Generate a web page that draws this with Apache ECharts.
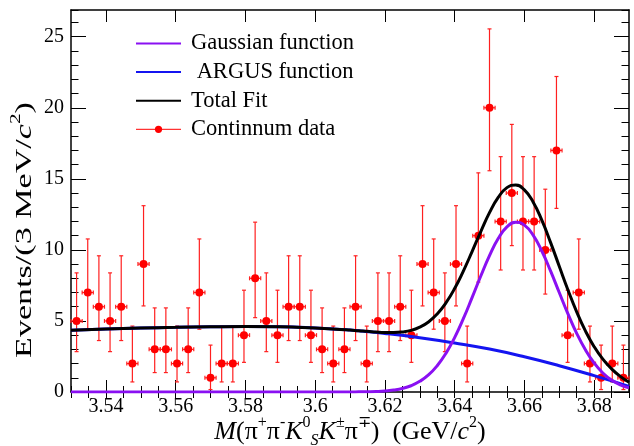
<!DOCTYPE html>
<html><head><meta charset="utf-8">
<script src="https://cdn.jsdelivr.net/npm/echarts@6/dist/echarts.min.js"></script>
<style>html,body{margin:0;padding:0;background:#fff}#c{width:634px;height:446px}</style>
</head><body><div id="c"></div>
<script>
// ---------- data ----------
const binCenters = [3.5316,3.5348,3.5380,3.5412,3.5444,3.5476,3.5508,3.5540,3.5572,3.5604,
  3.5636,3.5668,3.5700,3.5732,3.5764,3.5796,3.5828,3.5860,3.5892,3.5924,
  3.5956,3.5988,3.6020,3.6052,3.6084,3.6116,3.6148,3.6180,3.6212,3.6244,
  3.6276,3.6308,3.6340,3.6372,3.6404,3.6436,3.6468,3.6500,3.6532,3.6564,
  3.6596,3.6628,3.6660,3.6692,3.6724,3.6756,3.6788,3.6820,3.6852,3.6884];
const counts = [5,7,6,5,6,2,9,3,3,2, 3,7,1,2,2,4,8,5,4,6, 6,4,3,2,3,6,2,5,5,6,
  4,9,7,5,9,2,11,20,12,14, 12,12,10,17,4,7,2,1,2,1];
const halfBin = 0.0016;
// Poisson (68.3%) interval bounds indexed by count
const poissonLo = [0,0.173,0.708,1.367,2.086,2.840,3.620,4.419,5.232,6.057,6.891,7.734,8.585,9.441,10.30,11.17,12.04,12.92,13.80,14.68,15.57];
const poissonHi = [1.841,3.300,4.638,5.918,7.163,8.382,9.584,10.77,11.95,13.11,14.27,15.42,16.56,17.70,18.83,19.96,21.08,22.20,23.32,24.44,25.55];

const argusX = [3.53,3.54,3.55,3.56,3.57,3.58,3.59,3.60,3.61,3.62,3.63,3.64,3.65,3.66,3.67,3.68,3.69];
const argusY = [4.34,4.43,4.50,4.55,4.59,4.61,4.59,4.50,4.36,4.12,3.82,3.45,3.02,2.48,1.85,1.15,0.40];

const gaussX = [3.53,3.60,3.605,3.61,3.6125,3.615,3.6175,3.62,3.6225,3.625,3.6275,3.63,3.6325,3.635,3.6375,3.64,3.6425,3.645,3.6475,3.65,3.6525,3.655,3.6575,3.66,3.6625,3.665,3.6675,3.67,3.6725,3.675,3.6775,3.68,3.6825,3.685,3.6875,3.69];
const gaussY = [0,0,0,0,0.01,0.02,0.035,0.07,0.14,0.25,0.44,0.75,1.20,1.85,2.72,3.83,5.16,6.64,8.16,9.60,10.80,11.62,11.95,11.74,11.04,9.92,8.52,7.00,5.50,4.13,2.97,2.04,1.34,0.84,0.50,0.29];

const totalX = [3.53,3.54,3.55,3.56,3.57,3.58,3.59,3.60,3.605,3.61,3.6125,3.615,3.6175,3.62,3.6225,3.625,3.6275,3.63,3.6325,3.635,3.6375,3.64,3.6425,3.645,3.6475,3.65,3.6525,3.655,3.6575,3.66,3.6625,3.665,3.6675,3.67,3.6725,3.675,3.6775,3.68,3.6825,3.685,3.6875,3.69];
const totalY = [4.34,4.43,4.50,4.55,4.59,4.61,4.59,4.50,4.44,4.36,4.31,4.27,4.22,4.19,4.19,4.23,4.34,4.57,4.93,5.49,6.27,7.28,8.51,9.88,11.29,12.62,13.69,14.38,14.57,14.22,13.37,12.09,10.53,8.85,7.18,5.64,4.30,3.19,2.31,1.63,1.10,0.69];

const xTickLabels = [3.54,3.56,3.58,3.60,3.62,3.64,3.66,3.68];
const yTickLabels = [0,5,10,15,20,25];

// ---------- chart ----------
const F = "'Liberation Serif','Times New Roman',serif";
const chart = echarts.init(document.getElementById('c'), null, {renderer:'canvas'});
const zip = (xs, ys) => xs.map((x, i) => [x, ys[i]]);
const gridRect = {left:71, top:10, right:5, bottom:54};
const noSplit = {show:false};
const frameLine = {show:true, onZero:false, lineStyle:{color:'#000', width:1.5}};
const tickStyle = {color:'#000', width:1};

const errData = binCenters.map((x, i) => [x, counts[i], poissonLo[counts[i]], poissonHi[counts[i]]]);

function makeRich(size, supSize, lh) {
  return {
    n:{fontSize:size, fontFamily:F, lineHeight:lh, color:'#000', fill:'#000'},
    i:{fontSize:size, fontFamily:F, fontStyle:'italic', lineHeight:lh, color:'#000', fill:'#000'},
    sup:{fontSize:supSize, fontFamily:F, lineHeight:supSize, verticalAlign:'top', color:'#000', fill:'#000'},
    subi:{fontSize:supSize, fontFamily:F, fontStyle:'italic', lineHeight:supSize, verticalAlign:'bottom', color:'#000', fill:'#000'}
  };
}

const option = {
  animation:false,
  backgroundColor:'#fff',
  grid:[Object.assign({}, gridRect), Object.assign({}, gridRect)],
  xAxis:[
    {gridIndex:0, type:'value', position:'bottom', min:3.53, max:3.69, interval:0.01,
     axisLine:frameLine, splitLine:noSplit,
     axisTick:{show:true, inside:true, length:12, customValues:xTickLabels, lineStyle:tickStyle},
     axisLabel:{show:true, customValues:xTickLabels, fontSize:20, fontFamily:F, color:'#000', margin:5,
       formatter:v => String(parseFloat(Number(v).toFixed(2)))}},
    {gridIndex:0, type:'value', position:'top', min:3.53, max:3.69, interval:0.01,
     axisLine:frameLine, splitLine:noSplit,
     axisTick:{show:true, inside:true, length:12, customValues:xTickLabels, lineStyle:tickStyle},
     axisLabel:{show:false}},
    {gridIndex:1, type:'value', position:'bottom', min:3.53, max:3.69, interval:0.005,
     axisLine:{show:false}, splitLine:noSplit,
     axisTick:{show:true, inside:true, length:6, lineStyle:tickStyle}, axisLabel:{show:false}},
    {gridIndex:1, type:'value', position:'top', min:3.53, max:3.69, interval:0.005,
     axisLine:{show:false}, splitLine:noSplit,
     axisTick:{show:true, inside:true, length:6, lineStyle:tickStyle}, axisLabel:{show:false}}
  ],
  yAxis:[
    {gridIndex:0, type:'value', position:'left', min:0, max:26.88, interval:5,
     axisLine:frameLine, splitLine:noSplit,
     axisTick:{show:true, inside:true, length:15, customValues:yTickLabels, lineStyle:tickStyle},
     axisLabel:{show:true, customValues:yTickLabels, fontSize:20, fontFamily:F, color:'#000', margin:7}},
    {gridIndex:0, type:'value', position:'right', min:0, max:26.88, interval:5,
     axisLine:frameLine, splitLine:noSplit,
     axisTick:{show:true, inside:true, length:15, customValues:yTickLabels, lineStyle:tickStyle},
     axisLabel:{show:false}},
    {gridIndex:1, type:'value', position:'left', min:0, max:26.88, interval:1,
     axisLine:{show:false}, splitLine:noSplit,
     axisTick:{show:true, inside:true, length:7.5, lineStyle:tickStyle}, axisLabel:{show:false}},
    {gridIndex:1, type:'value', position:'right', min:0, max:26.88, interval:1,
     axisLine:{show:false}, splitLine:noSplit,
     axisTick:{show:true, inside:true, length:7.5, lineStyle:tickStyle}, axisLabel:{show:false}}
  ],
  legend:{
    orient:'vertical', left:135, top:32, padding:0, itemWidth:45, itemHeight:9, itemGap:5.6,
    textStyle:{fontFamily:F, fontSize:22.5, color:'#000', lineHeight:22, padding:[0,0,0,5]},
    data:[
      {name:'Gaussian function', itemStyle:{opacity:0}},
      {name:' ARGUS function', itemStyle:{opacity:0}},
      {name:'Total Fit', itemStyle:{opacity:0}},
      {name:'Continnum data', lineStyle:{color:'#ff0000', width:1, opacity:1}, itemStyle:{color:'#ff0000', opacity:1}}
    ],
    selectedMode:false
  },
  series:[
    {type:'custom', name:'errors', xAxisIndex:0, yAxisIndex:0, z:1, silent:true,
     data:errData,
     renderItem:(params, api) => {
       const x = api.value(0), y = api.value(1), lo = api.value(2), hi = api.value(3);
       const pLo = api.coord([x, lo]), pHi = api.coord([x, hi]);
       const pL = api.coord([x - halfBin, y]), pR = api.coord([x + halfBin, y]);
       const st = {stroke:'#ff2020', lineWidth:1.2, fill:null};
       const c = 2;
       return {type:'group', children:[
         {type:'line', shape:{x1:pLo[0], y1:pLo[1], x2:pHi[0], y2:pHi[1]}, style:st},
         {type:'line', shape:{x1:pLo[0]-c, y1:pLo[1], x2:pLo[0]+c, y2:pLo[1]}, style:st},
         {type:'line', shape:{x1:pHi[0]-c, y1:pHi[1], x2:pHi[0]+c, y2:pHi[1]}, style:st},
         {type:'line', shape:{x1:pL[0], y1:pL[1], x2:pR[0], y2:pR[1]}, style:st},
         {type:'line', shape:{x1:pL[0], y1:pL[1]-c, x2:pL[0], y2:pL[1]+c}, style:st},
         {type:'line', shape:{x1:pR[0], y1:pR[1]-c, x2:pR[0], y2:pR[1]+c}, style:st}
       ]};
     }},
    {type:'line', name:'Continnum data', xAxisIndex:0, yAxisIndex:0, z:2,
     data:zip(binCenters, counts), symbol:'circle', symbolSize:8, showSymbol:true,
     itemStyle:{color:'#ff0000'}, lineStyle:{opacity:0, color:'#ff0000'}},
    {type:'line', name:' ARGUS function', xAxisIndex:0, yAxisIndex:0, z:3,
     data:zip(argusX, argusY), symbol:'none', showSymbol:false, smooth:true,
     itemStyle:{color:'#1414f0'}, lineStyle:{color:'#1414f0', width:3}},
    {type:'line', name:'Gaussian function', xAxisIndex:0, yAxisIndex:0, z:4,
     data:zip(gaussX, gaussY), symbol:'none', showSymbol:false, smooth:true,
     itemStyle:{color:'#8a10f2'}, lineStyle:{color:'#8a10f2', width:3}},
    {type:'line', name:'Total Fit', xAxisIndex:0, yAxisIndex:0, z:5,
     data:zip(totalX, totalY), symbol:'none', showSymbol:false, smooth:true,
     itemStyle:{color:'#000'}, lineStyle:{color:'#000', width:3}}
  ],
  graphic:[
    {type:'text', x:350, y:432, z:10,
     style:{text:'{i|M}{n|(π}{sup|+}{n|π}{sup|-}{i|K}{sup|0}{subi|S}{i|K}{sup|±}{n|π}{sup|∓}{n|)  (GeV/}{i|c}{sup|2}{n|)}',
       rich:makeRich(26, 16, 34), fontSize:26, fontFamily:F, fill:'#000',
       align:'center', verticalAlign:'middle', textAlign:'center', textVerticalAlign:'middle'}},
    {type:'text', x:25, y:230, rotation:Math.PI/2, scaleX:1.42, z:10,
     style:{text:'{n|Events/(3 MeV/}{i|c}{sup|2}{n|)}',
       rich:makeRich(24, 15, 32), fontSize:24, fontFamily:F, fill:'#000',
       align:'center', verticalAlign:'middle', textAlign:'center', textVerticalAlign:'middle'}}
  ]
};
chart.setOption(option);
</script></body></html>
